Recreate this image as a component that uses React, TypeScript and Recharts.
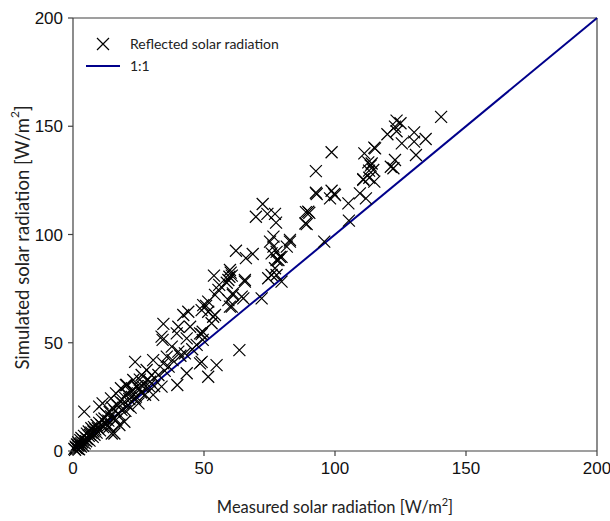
import React from "react";
import { ScatterChart, Scatter, XAxis, YAxis, ReferenceLine } from "recharts";

const measured = [
  0.5, 0.8, 1, 1.2, 1.5, 1.8, 2, 2, 2.3, 2.5, 2.8, 3, 3, 3.2, 3.5, 3.8, 4, 4.3, 4.2, 4.5,
  5, 5, 5.3, 5.5, 6, 6, 6.3, 6.5, 7, 7, 7.5, 7.8, 8, 8.2, 8.5, 9, 9, 9.5, 10, 10,
  10.3, 10.8, 11.3, 11, 11.5, 12, 12.3, 12.8, 13, 13.5, 13.9, 14, 14.5, 14.5, 14.8, 15, 15.5, 15.8, 16, 16.4,
  16.5, 17, 17.5, 17.7, 18, 18.3, 18.5, 19, 19.6, 19.5, 20, 20.2, 20.5, 20.5, 21, 21.5, 22, 22, 22.5, 23,
  23, 23.7, 23.7, 24, 24.5, 24.9, 25, 25.5, 26, 26.2, 26.6, 27, 27.5, 28.1, 28.5, 29, 29.4, 30, 30.6, 30.6,
  31, 32.6, 33.8, 33.8, 34.2, 34.5, 34.5, 35, 35.8, 36.5, 37.7, 38, 39.6, 39.8, 40.2, 40.2, 41, 42.1, 42.7, 43.4,
  43.4, 44, 44.7, 45.5, 47.2, 48.5, 48.5, 49.1, 49.1, 49.5, 49.5, 49.7, 49.1, 50.8, 51.6, 51.6, 51.6, 52.9, 53.5, 53.8,
  54.2, 54.2, 54.8, 55.5, 55.8, 58.7, 59.3, 59.3, 59.7, 59.9, 59.9, 60.2, 60.6, 60.6, 61, 61, 62.2, 63.5, 64.4, 65,
  65.6, 65.6, 66, 68.6, 69.8, 72, 72.4, 74.2, 74.5, 75.2, 75.8, 75.8, 76.5, 76.5, 77.1, 77.1, 77.5, 77.7, 77.7, 77.7,
  78.4, 79, 79.6, 79.6, 81.6, 82.8, 82.8, 88.9, 88.7, 89.2, 89.8, 90.2, 92.7, 92.7, 93, 95.9, 98.1, 98.7, 98.7, 99.7,
  100, 105.1, 105.3, 109.5, 110.8, 110.8, 111.2, 111.8, 112.7, 113, 113.1, 113.6, 114, 114.6, 115, 115, 115.3, 120, 121.3, 122.3,
  122.9, 122.9, 123.5, 123.5, 125, 125.5, 130.2, 130.2, 130.9, 134.6, 140.5,
];
const simulated = [
  1, 0.5, 2, 1.5, 3, 1, 2.5, 4, 0.8, 3, 5, 2, 3.5, 6, 4, 2.5, 5, 18.2, 7, 3.5,
  6, 4.5, 8, 5.5, 7, 9, 4.8, 7.5, 8.5, 10.5, 6.5, 9, 11, 7.5, 10, 12, 8.5, 10.5, 13, 20.5,
  9.5, 12, 22, 14.5, 11, 15, 13, 17, 11.5, 14, 11.2, 18, 24.3, 16, 8.1, 20, 15, 8.1, 18.5, 26.6,
  14.5, 21, 17, 12, 23, 29, 19, 22, 13.5, 25, 18.5, 30.5, 26.6, 30.5, 21, 24, 27.4, 20, 25, 32.8,
  28, 24.3, 41.2, 25.1, 30, 29, 22, 33, 27, 35.1, 29.7, 31, 26, 37.4, 33, 30, 32, 35, 25.9, 42,
  30, 35.1, 29.7, 52.8, 51.3, 40.5, 58.7, 37, 43.6, 39, 48.2, 42, 54.3, 30.5, 45.9, 57.4, 44, 62.8, 45.1, 52,
  35.9, 64.3, 57.4, 47, 49, 54.3, 40.5, 54, 41.2, 55.1, 51.3, 67.4, 65.1, 67, 69, 64.3, 34.3, 59, 62, 81,
  72.1, 62.8, 39.7, 74.4, 76.7, 77.7, 79, 69.7, 80.5, 83.6, 66.7, 82.4, 81, 66.7, 72.1, 72.8, 92.5, 46.6, 71.3, 70.5,
  78.2, 79, 89.1, 91, 108.2, 70.5, 114.1, 109.5, 79.8, 96.7, 91.3, 81.3, 94.4, 99, 84.4, 109.5, 105.5, 88.2, 81.3, 92,
  88.2, 89.7, 78.2, 89.7, 94.4, 96.7, 97.5, 110.3, 105.1, 104.8, 110.5, 110, 129.3, 119.3, 118.7, 96.7, 116.7, 138, 120.2, 118.7,
  118.2, 114.4, 106.4, 119, 125.5, 125.2, 137.5, 116.7, 133.3, 129.5, 126.2, 131.8, 132.8, 129.8, 140.1, 124.4, 139.8, 146.3, 131.3, 130.6,
  149.8, 134.4, 152.6, 147.7, 151.4, 142.1, 147.2, 142.9, 136.7, 144.1, 154.3,
];
const oneToOne = [0, 200];
const ticks = [0, 50, 100, 150, 200];
const legendLabels = ["Reflected solar radiation", "1:1"];

const points = measured.map((m, i) => ({ x: m, y: simulated[i] }));

const LINE_COLOR = "#00008b";
const AXIS_COLOR = "#404040";
const TITLE_FONT = "Lato, 'Open Sans', sans-serif";
const TICK_FONT = "'Liberation Sans Narrow', 'Liberation Sans', sans-serif";

const Cross = (props: any) => {
  const { cx, cy } = props;
  const r = 6;
  return (
    <path
      d={`M${cx - r},${cy - r}L${cx + r},${cy + r}M${cx - r},${cy + r}L${cx + r},${cy - r}`}
      stroke="#000"
      strokeWidth={1.2}
      fill="none"
    />
  );
};

// tick label + short outward tick mark
const XTick = (props: any) => {
  const { x, y, payload } = props;
  return (
    <g>
      <line x1={x} y1={y - 11} x2={x} y2={y - 6} stroke={AXIS_COLOR} strokeWidth={1.2} />
      <text x={x} y={y} dy="0.71em" textAnchor="middle" fontFamily={TICK_FONT} fontSize={17} fill="#111">
        {payload.value}
      </text>
    </g>
  );
};

const YTick = (props: any) => {
  const { x, y, payload } = props;
  return (
    <g>
      <line x1={x + 5} y1={y} x2={x + 10} y2={y} stroke={AXIS_COLOR} strokeWidth={1.2} />
      <text x={x} y={y} dy="0.355em" textAnchor="end" fontFamily={TICK_FONT} fontSize={17} fill="#111">
        {payload.value}
      </text>
    </g>
  );
};

const XTitle = (props: any) => {
  const { x, y, width } = props.viewBox;
  return (
    <text x={x + width / 2} y={y + 62} textAnchor="middle" fontFamily={TITLE_FONT} fontSize={16.5} fill="#222">
      Measured solar radiation [W/m<tspan dy={-7} fontSize={11}>2</tspan>
      <tspan dy={7}>]</tspan>
    </text>
  );
};

const YTitle = (props: any) => {
  const { y, height } = props.viewBox;
  const cx = 22;
  const cy = y + height / 2 + 3;
  return (
    <text
      x={cx}
      y={cy}
      transform={`rotate(-90, ${cx}, ${cy})`}
      textAnchor="middle"
      dominantBaseline="central"
      fontFamily={TITLE_FONT}
      fontSize={18.5}
      fill="#222"
    >
      Simulated solar radiation [W/m<tspan dy={-8} fontSize={12}>2</tspan>
      <tspan dy={8}>]</tspan>
    </text>
  );
};

const LegendBox = () => (
  <div
    style={{
      position: "absolute",
      left: 80,
      top: 33,
      fontFamily: TITLE_FONT,
      fontSize: 14,
      color: "#222",
      lineHeight: "22px",
    }}
  >
    <div style={{ display: "flex", alignItems: "center" }}>
      <svg width={44} height={22}>
        <path d="M17,5L29,17M17,17L29,5" stroke="#000" strokeWidth={1.2} fill="none" />
      </svg>
      <span style={{ marginLeft: 6 }}>{legendLabels[0]}</span>
    </div>
    <div style={{ display: "flex", alignItems: "center" }}>
      <svg width={44} height={22}>
        <line x1={6} y1={11} x2={40} y2={11} stroke={LINE_COLOR} strokeWidth={2} />
      </svg>
      <span style={{ marginLeft: 6 }}>{legendLabels[1]}</span>
    </div>
  </div>
);

export default function App() {
  return (
    <div style={{ position: "absolute", left: 0, top: 0, width: 610, height: 521 }}>
      <ScatterChart width={610} height={521} margin={{ top: 18, right: 13, bottom: 0, left: 0 }}>
        <XAxis
          type="number"
          dataKey="x"
          domain={[0, 200]}
          ticks={ticks}
          height={70}
          tickSize={5}
          tickMargin={6}
          axisLine={false}
          tickLine={false}
          tick={<XTick />}
          label={<XTitle />}
        />
        <YAxis
          type="number"
          dataKey="y"
          domain={[0, 200]}
          ticks={ticks}
          width={73}
          tickSize={5}
          tickMargin={5}
          axisLine={false}
          tickLine={false}
          tick={<YTick />}
          label={<YTitle />}
        />
        {/* plot box */}
        <ReferenceLine x={oneToOne[0]} stroke={AXIS_COLOR} strokeWidth={1.2} />
        <ReferenceLine y={oneToOne[0]} stroke={AXIS_COLOR} strokeWidth={1.2} />
        <ReferenceLine x={oneToOne[1]} stroke={AXIS_COLOR} strokeWidth={1.2} />
        <ReferenceLine y={oneToOne[1]} stroke={AXIS_COLOR} strokeWidth={1.2} />
        <ReferenceLine
          segment={[
            { x: oneToOne[0], y: oneToOne[0] },
            { x: oneToOne[1], y: oneToOne[1] },
          ]}
          stroke={LINE_COLOR}
          strokeWidth={2}
        />
        <Scatter data={points} shape={<Cross />} isAnimationActive={false} />
      </ScatterChart>
      <LegendBox />
    </div>
  );
}
